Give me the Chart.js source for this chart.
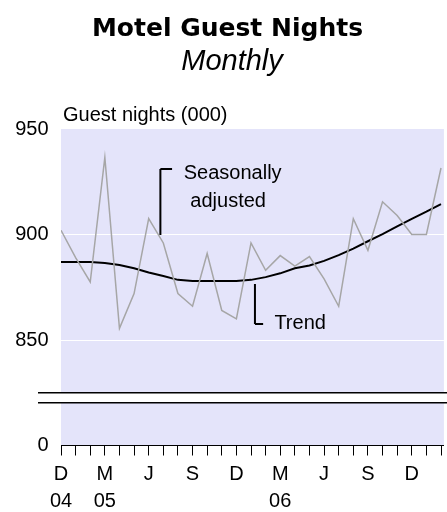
<!DOCTYPE html>
<html>
<head>
<meta charset="utf-8">
<script src="https://cdn.jsdelivr.net/npm/chart.js@4.4.1/dist/chart.umd.min.js"></script>
<style>
    html, body { margin: 0; padding: 0; background: #fff; overflow: hidden; }
    canvas { display: block; }
</style>
</head>
<body>
<canvas id="guest-nights" width="447" height="512"></canvas>
<script>
// Months from Dec 2004 onwards, one letter per point
var monthLetters = ["D", "J", "F", "M", "A", "M", "J", "J", "A", "S", "O", "N",
    "D", "J", "F", "M", "A", "M", "J", "J", "A", "S", "O", "N", "D", "J", "F"];
// Year shown under the first labelled month of each year
var yearLabels = { 0: "04", 3: "05", 15: "06" };

// Guest nights (000)
var seasonallyAdjusted = [902, 889, 877.5, 936.5, 855.5, 872, 907.5, 896, 872, 866,
    891, 864, 860, 896, 883, 890, 885, 889.5, 879, 866, 907.5, 892.5, 915.5, 909,
    900, 900, 931.5];
var trend = [887, 887, 887, 886.5, 885.5, 884, 882, 880.3, 878.5, 878, 878, 878, 878,
    878.5, 879.8, 881.6, 884, 885.3, 887.5, 890.2, 893.3, 896.8, 900.2, 903.8, 907.4,
    910.8, 914.4];

// Value axis: bottom tick is shown as 0, the scale is broken just above it
var yMin = 800, yMax = 950, yStep = 50;
var breakBand = [820.3, 825];

// Labels and leader brackets, in data units (month index, guest nights)
var notes = [
    { text: "Seasonally", x: 8.4, y: 926.5 },
    { text: "adjusted", x: 8.85, y: 913.2 },
    { text: "Trend", x: 14.6, y: 855.4 }
];
var brackets = [
    { x: 6.8, top: 931, bottom: 899.8, armTo: 7.6, armAt: 931 },
    { x: 13.27, top: 876.5, bottom: 857.6, armTo: 13.83, armAt: 857.6 }
];

var sans = "'Liberation Sans', Arial, sans-serif";

function points(values) {
    return values.map(function (v, i) { return { x: i, y: v }; });
}

// Lavender plot area, drawn under the grid
var plotBackground = {
    id: "plotBackground",
    beforeDraw: function (chart) {
        var a = chart.chartArea, ctx = chart.ctx;
        ctx.save();
        ctx.fillStyle = "#e4e4fa";
        ctx.fillRect(a.left, a.top, a.right - a.left, a.bottom - a.top);
        ctx.restore();
    }
};

// Axis break, annotations and titles
var decorations = {
    id: "decorations",
    afterDatasetsDraw: function (chart) {
        var ctx = chart.ctx, a = chart.chartArea;
        var xs = chart.scales.x, ys = chart.scales.y;
        var y0 = ys.getPixelForValue(breakBand[1]);
        var y1 = ys.getPixelForValue(breakBand[0]);
        var left = a.left - 23;
        ctx.save();
        ctx.fillStyle = "#fff";
        ctx.fillRect(left, y0, chart.width - left, y1 - y0);
        ctx.strokeStyle = "#000";
        ctx.lineWidth = 1.5;
        ctx.beginPath();
        ctx.moveTo(left, y0); ctx.lineTo(chart.width, y0);
        ctx.moveTo(left, y1); ctx.lineTo(chart.width, y1);
        ctx.stroke();

        ctx.lineWidth = 2;
        brackets.forEach(function (b) {
            var x = xs.getPixelForValue(b.x);
            ctx.beginPath();
            ctx.moveTo(x, ys.getPixelForValue(b.top));
            ctx.lineTo(x, ys.getPixelForValue(b.bottom));
            ctx.moveTo(x, ys.getPixelForValue(b.armAt));
            ctx.lineTo(xs.getPixelForValue(b.armTo), ys.getPixelForValue(b.armAt));
            ctx.stroke();
        });

        ctx.fillStyle = "#000";
        ctx.font = "20px " + sans;
        ctx.textAlign = "left";
        ctx.textBaseline = "alphabetic";
        notes.forEach(function (n) {
            ctx.fillText(n.text, xs.getPixelForValue(n.x), ys.getPixelForValue(n.y));
        });
        ctx.restore();
    },
    afterDraw: function (chart) {
        var ctx = chart.ctx;
        ctx.save();
        ctx.fillStyle = "#000";
        ctx.textBaseline = "alphabetic";
        ctx.textAlign = "center";
        ctx.font = "bold 25px 'DejaVu Sans', Verdana, sans-serif";
        ctx.fillText("Motel Guest Nights", 227.5, 36);
        ctx.font = "italic 29px " + sans;
        ctx.fillText("Monthly", 232, 69.5);
        ctx.textAlign = "left";
        ctx.font = "20px " + sans;
        ctx.fillText("Guest nights (000)", 63, 120.5);
        ctx.restore();
    }
};

new Chart(document.getElementById("guest-nights"), {
    type: "line",
    data: {
        datasets: [
            {
                label: "Seasonally adjusted",
                data: points(seasonallyAdjusted),
                borderColor: "#a6a6a6",
                borderWidth: 1.5,
                pointRadius: 0,
                tension: 0
            },
            {
                label: "Trend",
                data: points(trend),
                borderColor: "#000",
                borderWidth: 2,
                pointRadius: 0,
                tension: 0
            }
        ]
    },
    options: {
        responsive: false,
        animation: false,
        devicePixelRatio: 1,
        layout: { padding: { top: 129, left: 0, right: 0, bottom: 0 } },
        plugins: {
            legend: { display: false },
            tooltip: { enabled: false }
        },
        scales: {
            x: {
                type: "linear",
                min: 0,
                max: 26.2,
                afterFit: function (s) { s.height = 66.5; },
                border: { display: true, color: "#000", width: 1 },
                grid: {
                    drawOnChartArea: false,
                    drawTicks: true,
                    tickLength: 10,
                    tickColor: "#000",
                    tickWidth: 1
                },
                ticks: {
                    stepSize: 1,
                    includeBounds: false,
                    autoSkip: false,
                    maxRotation: 0,
                    padding: 6,
                    color: "#000",
                    font: { family: sans, size: 20, lineHeight: 1.325 },
                    callback: function (v) {
                        var i = Math.round(v);
                        if (i % 3 !== 0 || !monthLetters[i]) return "";
                        return yearLabels[i] ? [monthLetters[i], yearLabels[i]] : monthLetters[i];
                    }
                }
            },
            y: {
                min: yMin,
                max: yMax,
                afterFit: function (s) { s.width = 61; },
                border: { display: false },
                grid: {
                    drawTicks: false,
                    tickLength: 0,
                    lineWidth: 1,
                    color: function (c) {
                        var v = c.tick && c.tick.value;
                        return v > yMin && v < yMax ? "#fff" : "rgba(0,0,0,0)";
                    }
                },
                ticks: {
                    stepSize: yStep,
                    padding: 12.5,
                    color: "#000",
                    font: { family: sans, size: 20 },
                    callback: function (v) { return v === yMin ? "0" : String(v); }
                }
            }
        }
    },
    plugins: [plotBackground, decorations]
});
</script>
</body>
</html>
